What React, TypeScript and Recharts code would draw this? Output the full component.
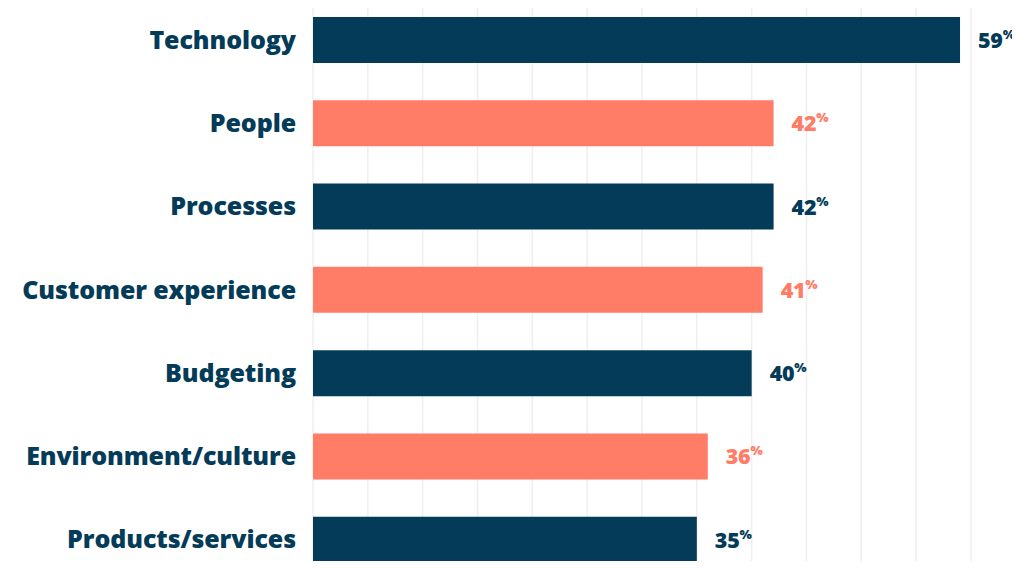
import { BarChart, Bar, XAxis, YAxis, CartesianGrid, Cell, LabelList } from "recharts";

const categories = [
  "Technology",
  "People",
  "Processes",
  "Customer experience",
  "Budgeting",
  "Environment/culture",
  "Products/services",
];
const shares = [59, 42, 42, 41, 40, 36, 35];
const xTicks = [0, 5, 10, 15, 20, 25, 30, 35, 40, 45, 50, 55, 60];

const NAVY = "#033b58";
const CORAL = "#ff7c67";
const palette = [NAVY, CORAL];

const data = categories.map((name, i) => ({ name, value: shares[i] }));

const FONT = "'Open Sans', sans-serif";

const ValueLabel = (props: any) => {
  const { x, y, width, height, value, index } = props;
  const color = palette[index % 2];
  return (
    <text
      x={x + width + 18}
      y={y + height / 2 + 8}
      fill={color}
      fontFamily={FONT}
      fontWeight={800}
      fontSize={21.5}
      letterSpacing={-0.3}
    >
      <tspan>{value}</tspan>
      <tspan fontSize={13} dy={-9}>%</tspan>
    </text>
  );
};

const CategoryTick = (props: any) => {
  const { x, y, payload } = props;
  return (
    <text
      x={x}
      y={y + 9}
      textAnchor="end"
      fill={NAVY}
      fontFamily={FONT}
      fontWeight={800}
      fontSize={25}
      letterSpacing={-0.1}
    >
      {payload.value}
    </text>
  );
};

const App = () => {
  return (
    <div style={{ margin: -8, width: 1020, height: 569, overflow: "hidden", position: "relative", background: "#fff" }}>
      <div style={{ position: "absolute", left: 0, top: -5 }}>
        <BarChart
          width={1020}
          height={586}
          data={data}
          layout="vertical"
          margin={{ top: 3, right: 49, bottom: 0, left: 0 }}
          barSize={46}
        >
          <CartesianGrid horizontal={false} stroke="#efefef" strokeWidth={1.5} />
          <XAxis type="number" domain={[0, 60]} ticks={xTicks} hide />
          <YAxis
            type="category"
            dataKey="name"
            width={313}
            axisLine={false}
            tickLine={false}
            tickSize={0}
            tickMargin={17}
            tick={<CategoryTick />}
            interval={0}
          />
          <Bar dataKey="value" isAnimationActive={false}>
            {data.map((_, i) => (
              <Cell key={`cell-${i}`} fill={palette[i % 2]} />
            ))}
            <LabelList dataKey="value" content={<ValueLabel />} />
          </Bar>
        </BarChart>
      </div>
    </div>
  );
};

export default App;
